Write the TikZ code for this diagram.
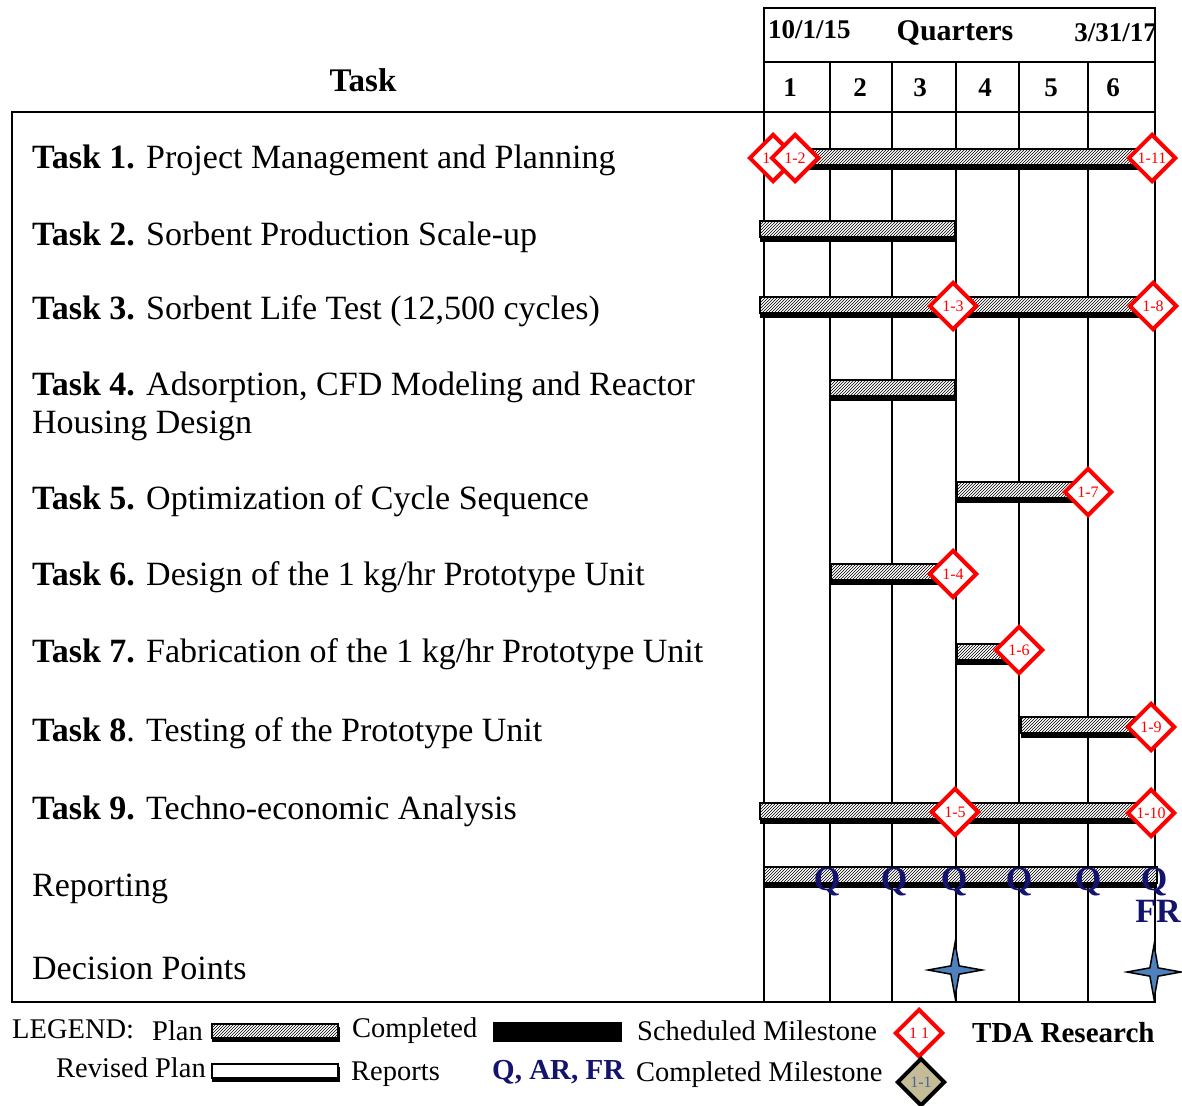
\documentclass[tikz,border=0pt]{standalone}
\usepackage{fontspec}
\setmainfont{Liberation Serif}
\usetikzlibrary{patterns,shapes.geometric}
\definecolor{navy}{RGB}{20,20,110}
\definecolor{starblue}{RGB}{79,129,189}
\definecolor{tanfill}{RGB}{196,188,150}
\definecolor{msblue}{RGB}{70,100,150}
\newcommand\planbar[3]{%
  \fill[black] (#1,#3-5) rectangle (#2,#3+11);
  \fill[white] (#1,#3-10) rectangle (#2,#3+6);
  \draw[line width=1.2, pattern=north east lines] (#1,#3-10) rectangle (#2,#3+6);}
\begin{document}
\begin{tikzpicture}[x=1pt,y=-1pt,
  tasktxt/.style={anchor=west, inner sep=0pt, font=\fontsize{34}{38}\selectfont, align=left},
  hdr/.style={inner sep=0pt, font=\bfseries\fontsize{27}{30}\selectfont},
  ms/.style={diamond, draw=red, line width=4pt, fill=white, text=red, inner sep=0pt,
     minimum width=48pt, minimum height=48pt, font=\fontsize{16}{16}\selectfont},
  donems/.style={diamond, draw=black, line width=4pt, fill=tanfill, text=msblue, inner sep=0pt,
     minimum width=48pt, minimum height=48pt, font=\fontsize{16}{16}\selectfont},
  qlab/.style={inner sep=0pt, text=navy, font=\bfseries\fontsize{34}{34}\selectfont},
  dstar/.style={star, star points=4, star point ratio=4.6, draw=black, line width=1.5pt, fill=starblue,
     minimum size=54pt, inner sep=0pt},
  legtxt/.style={anchor=west, inner sep=0pt, font=\fontsize{28.5}{30}\selectfont},
  grid/.style={line width=2.5pt}]
\useasboundingbox (0,0) rectangle (1182,1105);
\fill[white] (0,0) rectangle (1182,1105);

% header
\draw[grid] (764,8) rectangle (1155,112);
\draw[grid] (764,62) -- (1155,62);
\node[hdr, anchor=west] (d0) at (768,30) {10/1/15};
\node[hdr, font=\bfseries\fontsize{30}{30}\selectfont] (qtr) at (955,33) {Quarters};
\node[hdr, anchor=east] (d1) at (1157,33) {3/31/17};
\foreach \n/\x in {1/790,2/860,3/920,4/985,5/1051,6/1113}
  \node[hdr] (q\n) at (\x,88) {\n};
\node[hdr, font=\bfseries\fontsize{33}{33}\selectfont] (taskhdr) at (363,80) {Task};

% main frame and grid
\draw[grid] (12,112) rectangle (1155,1002);
\foreach \x in {764,830,892,956,1019,1088}
  \draw[grid] (\x,62) -- (\x,1002);

% task labels
\node[tasktxt] (t1) at (32,160) {\textbf{Task 1.} Project Management and Planning};
\node[tasktxt] (t2) at (32,237) {\textbf{Task 2.} Sorbent Production Scale-up};
\node[tasktxt] (t3) at (32,311) {\textbf{Task 3.} Sorbent Life Test (12,500 cycles)};
\node[tasktxt] (t4) at (32,406) {\textbf{Task 4.} Adsorption, CFD Modeling and Reactor\\Housing Design};
\node[tasktxt] (t5) at (32,501) {\textbf{Task 5.} Optimization of Cycle Sequence};
\node[tasktxt] (t6) at (32,577) {\textbf{Task 6.} Design of the 1 kg/hr Prototype Unit};
\node[tasktxt] (t7) at (32,654) {\textbf{Task 7.} Fabrication of the 1 kg/hr Prototype Unit};
\node[tasktxt] (t8) at (32,733) {\textbf{Task 8}. Testing of the Prototype Unit};
\node[tasktxt] (t9) at (32,811) {\textbf{Task 9.} Techno-economic Analysis};
\node[tasktxt] (rep) at (32,889) {Reporting};
\node[tasktxt] (dec) at (32,968) {Decision Points};

% bars
\planbar{780}{1148}{159}
\planbar{760}{955}{231}
\planbar{760}{1150}{307}
\planbar{830}{955}{390}
\planbar{957}{1085}{492}
\planbar{831}{952}{574}
\planbar{957}{1015}{654}
\planbar{1021}{1148}{727}
\planbar{760}{1150}{813}
\planbar{764}{1157}{877}

% milestones
\node[ms] (m1) at (773,158) {1-1};
\node[ms] (m2) at (795,158) {1-2};
\node[ms] (m11) at (1152,158) {1-11};
\node[ms] (m3) at (953,306) {1-3};
\node[ms] (m8) at (1153,306) {1-8};
\node[ms] (m7) at (1088,492) {1-7};
\node[ms] (m4) at (953,574) {1-4};
\node[ms] (m6) at (1019,650) {1-6};
\node[ms] (m9) at (1151,727) {1-9};
\node[ms] (m5) at (955,812) {1-5};
\node[ms] (m10) at (1151,813) {1-10};

% reports
\foreach \n/\x in {a/827,b/894,c/954,d/1019,e/1088,f/1154}
  \node[qlab] (rq\n) at (\x,882) {Q};
\node[qlab] (fr) at (1158,911) {FR};

% decision points
\node[dstar] (dp1) at (955,970) {};
\node[dstar] (dp2) at (1154,972) {};

% legend
\node[legtxt] (lg) at (12,1029) {LEGEND:};
\node[legtxt] (lplan) at (152,1031) {Plan};
\fill[black] (212,1027) rectangle (340,1042);
\fill[white] (212,1024) rectangle (338,1038);
\draw[line width=1.5pt, pattern=north east lines] (212,1024) rectangle (338,1038);
\node[legtxt] (lcomp) at (352,1031) {Completed};
\fill[black] (493,1022) rectangle (622,1042);
\node[legtxt] (lsched) at (637,1031) {Scheduled Milestone};
\node[ms] (lms) at (919,1033) {1 1};
\node[legtxt, font=\bfseries\fontsize{29}{30}\selectfont] (tda) at (972,1033) {TDA Research};
\node[legtxt] (lrev) at (56,1068) {Revised Plan};
\fill[black] (212,1067) rectangle (340,1082);
\draw[line width=2pt, fill=white] (212,1064) rectangle (338,1078);
\node[legtxt] (lrep) at (351,1074) {Reports};
\node[legtxt, text=navy, font=\bfseries\fontsize{29}{30}\selectfont] (lq) at (492,1072) {Q, AR, FR};
\node[legtxt] (ldone) at (636,1075) {Completed Milestone};
\node[donems] (ldm) at (921,1082) {1-1};
\end{tikzpicture}
\end{document}
